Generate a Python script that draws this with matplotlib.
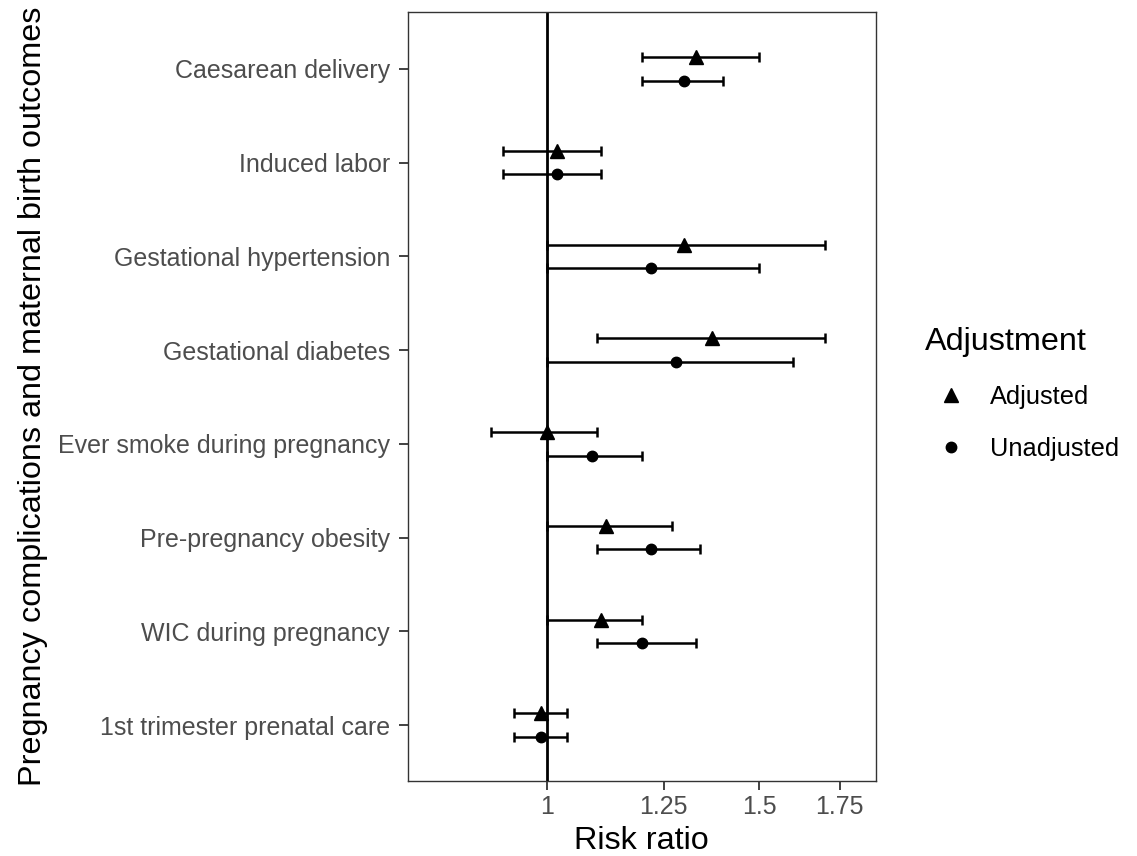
import matplotlib
matplotlib.use("Agg")
import matplotlib.pyplot as plt
from matplotlib.lines import Line2D
import matplotlib.ticker as mticker
import numpy as np

plt.rcParams['font.family'] = ['Liberation Sans', 'DejaVu Sans']

categories = ["1st trimester prenatal care", "WIC during pregnancy", "Pre-pregnancy obesity",
              "Ever smoke during pregnancy", "Gestational diabetes", "Gestational hypertension",
              "Induced labor", "Caesarean delivery"]

adj_rr = [0.99, 1.11, 1.12, 1.00, 1.37, 1.30, 1.02, 1.33]
adj_lo = [0.94, 1.00, 1.00, 0.90, 1.10, 1.00, 0.92, 1.20]
adj_hi = [1.04, 1.20, 1.27, 1.10, 1.70, 1.70, 1.11, 1.50]

unadj_rr = [0.99, 1.20, 1.22, 1.09, 1.28, 1.22, 1.02, 1.30]
unadj_lo = [0.94, 1.10, 1.10, 1.00, 1.00, 1.00, 0.92, 1.20]
unadj_hi = [1.04, 1.33, 1.34, 1.20, 1.60, 1.50, 1.11, 1.40]

xticks = [1, 1.25, 1.5, 1.75]
xtick_labels = ["1", "1.25", "1.5", "1.75"]

fig = plt.figure(figsize=(11.37, 8.56), dpi=100)
ax = fig.add_axes([408/1137, 1-780.7/856, (875.7-408)/1137, (780.7-12.3)/856])

ax.axvline(1, color='black', lw=2.0, zorder=1)

y = np.arange(1, len(categories) + 1)
dodge = 0.125
series = [
    (adj_rr, adj_lo, adj_hi, y + dodge, '^', 10),
    (unadj_rr, unadj_lo, unadj_hi, y - dodge, 'o', 7.5),
]
for rr, lo, hi, yy, mk, ms in series:
    rr = np.array(rr); lo = np.array(lo); hi = np.array(hi)
    ax.errorbar(rr, yy, xerr=[rr - lo, hi - rr], fmt='none', ecolor='black',
                elinewidth=1.8, capsize=3.3, capthick=1.8, zorder=2)
    ax.plot(rr, yy, linestyle='none', marker=mk, color='black', markersize=ms, zorder=3)

ax.set_xscale('log')
ax.set_xlim(0.7674, 1.874)
ax.set_ylim(0.406, 8.605)
ax.xaxis.set_major_locator(mticker.FixedLocator(xticks))
ax.xaxis.set_major_formatter(mticker.FixedFormatter(xtick_labels))
ax.xaxis.set_minor_locator(mticker.NullLocator())
ax.set_yticks(y)
ax.set_yticklabels(categories)

ax.tick_params(axis='both', which='major', labelsize=18, labelcolor='#4D4D4D',
               color='#333333', length=6.5, width=1.3)
ax.tick_params(axis='x', pad=3.5)
ax.tick_params(axis='y', pad=6.5)
for s in ax.spines.values():
    s.set_color('#333333')
    s.set_linewidth(1.0)

ax.set_xlabel("Risk ratio", fontsize=23.3, color='black', labelpad=5)
ax.set_ylabel("Pregnancy complications and maternal birth outcomes", fontsize=23.3,
              color='black', labelpad=7)

handles = [Line2D([], [], linestyle='none', marker='^', color='black', markersize=10),
           Line2D([], [], linestyle='none', marker='o', color='black', markersize=7.5)]
leg = fig.legend(handles, ["Adjusted", "Unadjusted"], title="Adjustment",
                 loc='upper left', bbox_to_anchor=(915/1137, 1-317/856),
                 frameon=False, fontsize=18.3, title_fontsize=23.3,
                 labelspacing=1.1, handletextpad=0.56, alignment='left',
                 borderaxespad=0)

fig.savefig("out.png", dpi=100)
